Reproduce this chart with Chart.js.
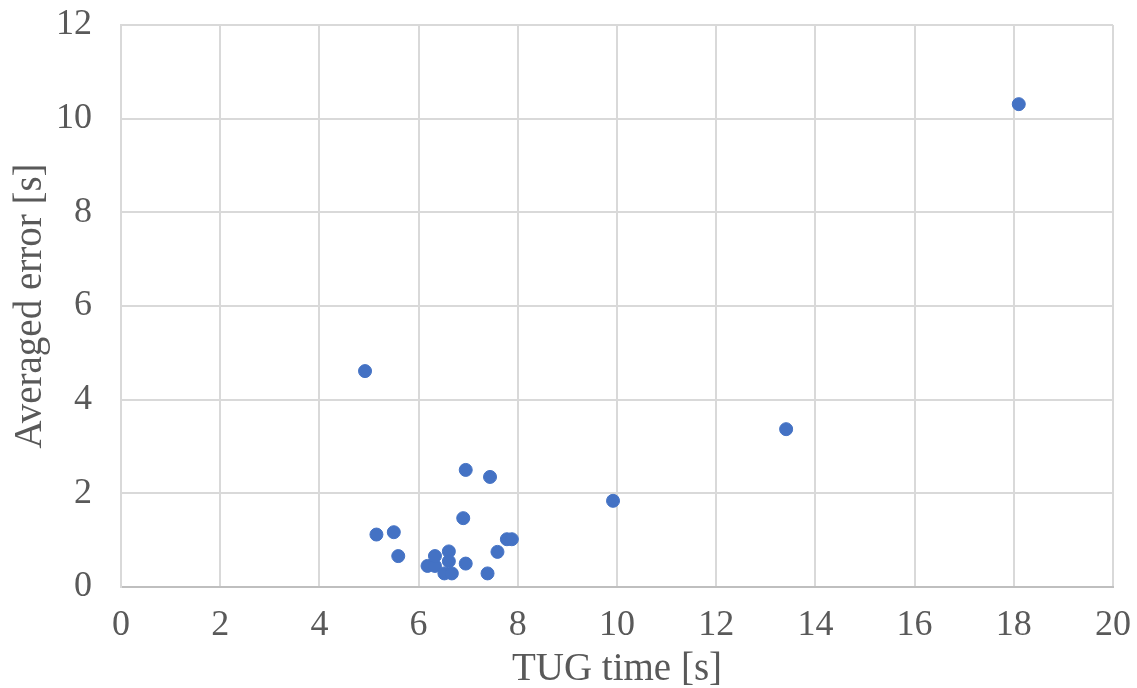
<!DOCTYPE html>
<html>
<head>
<meta charset="utf-8">
<script src="https://cdn.jsdelivr.net/npm/chart.js@4.4.1/dist/chart.umd.min.js"></script>
<style>
  html, body { margin: 0; padding: 0; background: #fff; }
  #wrap { width: 1137px; height: 688px; }
</style>
</head>
<body>
<div id="wrap"><canvas id="chart" width="1137" height="688"></canvas></div>
<script>
// TUG time [s] vs averaged error [s]
const tugTime = [4.92, 5.15, 5.50, 5.59, 6.18, 6.33, 6.33, 6.52, 6.61, 6.61, 6.67, 6.90, 6.95, 6.95, 7.39, 7.44, 7.59, 7.78, 7.88, 9.92, 13.41, 18.10];
const avgError = [4.61, 1.12, 1.17, 0.66, 0.45, 0.45, 0.66, 0.29, 0.76, 0.55, 0.29, 1.47, 2.50, 0.50, 0.29, 2.35, 0.75, 1.02, 1.02, 1.84, 3.37, 10.31];
const xTicks = [0, 2, 4, 6, 8, 10, 12, 14, 16, 18, 20];
const yTicks = [0, 2, 4, 6, 8, 10, 12];

const points = tugTime.map((x, i) => ({ x: x, y: avgError[i] }));
const tickFont = { family: 'Liberation Serif', size: 36 };
const titleFont = { family: 'Liberation Serif', size: 39 };

new Chart(document.getElementById('chart').getContext('2d'), {
    type: 'scatter',
    data: {
        datasets: [{
            data: points,
            backgroundColor: '#4472C4',
            borderColor: '#4472C4',
            pointRadius: 6.5,
            pointHoverRadius: 6.5
        }]
    },
    options: {
        responsive: false,
        animation: false,
        layout: { padding: { top: 25, right: 24, left: 0, bottom: 0 } },
        plugins: { legend: { display: false }, tooltip: { enabled: false } },
        scales: {
            x: {
                min: 0, max: 20,
                afterBuildTicks: s => { s.ticks = xTicks.map(v => ({ value: v })); },
                afterFit: s => { s.height = 101; s.paddingLeft = 0; s.paddingRight = 0; },
                grid: { color: '#d9d9d9', lineWidth: 2, drawTicks: false },
                border: { color: '#bfbfbf', width: 2 },
                ticks: { color: '#595959', font: tickFont, padding: 17, maxRotation: 0 },
                title: { display: true, text: 'TUG time [s]', color: '#595959', font: titleFont, padding: { top: 0, bottom: -5 } }
            },
            y: {
                min: 0, max: 12,
                afterBuildTicks: s => { s.ticks = yTicks.map(v => ({ value: v })); },
                afterFit: s => { s.width = 121; s.paddingTop = 0; s.paddingBottom = 0; },
                grid: { color: '#d9d9d9', lineWidth: 2, drawTicks: false },
                border: { color: '#d9d9d9', width: 2 },
                ticks: { color: '#595959', font: tickFont, padding: 29 },
                title: { display: true, text: 'Averaged error [s]', color: '#595959', font: titleFont, padding: { top: 7, bottom: 0 } }
            }
        }
    }
});
</script>
</body>
</html>
